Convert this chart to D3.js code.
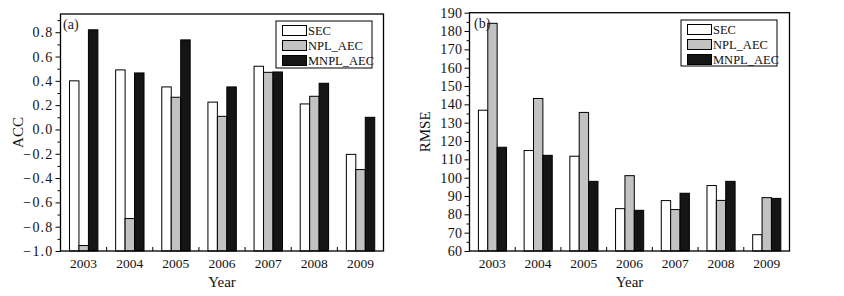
<!DOCTYPE html>
<html><head><meta charset="utf-8">
<script src="https://cdn.jsdelivr.net/npm/d3@7"></script>
<style>
html,body{margin:0;padding:0;background:#fff;}
svg{display:block;font-family:"Liberation Serif","DejaVu Serif",serif;}
</style></head>
<body>
<svg id="chart" width="844" height="296"></svg>
<script>
const years = ["2003","2004","2005","2006","2007","2008","2009"];
const seriesNames = ["SEC","NPL_AEC","MNPL_AEC"];
const seriesColors = ["#ffffff","#c2c2c2","#151515"];
const accSEC  = [0.40, 0.49, 0.35, 0.225, 0.52, 0.21, -0.205];
const accNPL  = [-0.955, -0.733, 0.265, 0.108, 0.47, 0.273, -0.33];
const accMNPL = [0.82, 0.465, 0.737, 0.35, 0.473, 0.38, 0.10];
const rmseSEC  = [136.8, 114.8, 111.7, 83.1, 87.5, 95.7, 68.9];
const rmseNPL  = [184.2, 143.2, 135.6, 101.1, 82.6, 87.6, 89.1];
const rmseMNPL = [116.6, 112.2, 98.0, 82.2, 91.5, 98.0, 88.7];
const accTicks = [-1.0,-0.8,-0.6,-0.4,-0.2,0.0,0.2,0.4,0.6,0.8];
const rmseTicks = [60,70,80,90,100,110,120,130,140,150,160,170,180,190];

const svg = d3.select("#chart");

function panel(opts){
  const {x0,x1,y0,y1,domain,ticks,minorStep,fmt,series,label,yTitle,yTitleX,legend,labelPos,ls} = opts;
  const g = svg.append("g");
  const x = d3.scaleBand().domain(years).range([x0,x1]).padding(0);
  const xs = d3.scaleBand().domain(seriesNames).range([x.bandwidth()*0.195, x.bandwidth()*0.81]).padding(0);
  const y = d3.scaleLinear().domain(domain).range([y1,y0]);

  seriesNames.forEach((s,si)=>{
    g.selectAll(null).data(years).enter().append("rect")
      .attr("x", d=>x(d)+xs(s))
      .attr("width", xs.bandwidth())
      .attr("y", (d,i)=>y(series[si][i]))
      .attr("height", (d,i)=>y(domain[0]) - y(series[si][i]))
      .attr("fill", seriesColors[si])
      .attr("stroke","#000").attr("stroke-width",1);
  });

  g.append("rect").attr("x",x0).attr("y",y0).attr("width",x1-x0).attr("height",y1-y0)
    .attr("fill","none").attr("stroke","#000").attr("stroke-width",1.3);

  const yAxis = d3.axisLeft(y).tickValues(ticks).tickFormat(fmt).tickSize(5).tickPadding(2);
  const ya = g.append("g").attr("transform",`translate(${x0},0)`).call(yAxis);
  ya.attr("font-family",null);
  ya.select(".domain").remove();
  ya.selectAll("text").attr("font-size",14).attr("letter-spacing",ls).attr("font-family","Liberation Serif, serif").attr("fill","#111");
  const minor = d3.range(domain[0], domain[1]+1e-9, minorStep).filter(v=>!ticks.some(t=>Math.abs(t-v)<1e-9));
  const ym = d3.axisLeft(y).tickValues(minor).tickFormat("").tickSize(3);
  const yma = g.append("g").attr("transform",`translate(${x0},0)`).call(ym);
  yma.select(".domain").remove();

  const xAxis = d3.axisBottom(x).tickSize(0).tickPadding(7);
  const xa = g.append("g").attr("transform",`translate(0,${y1})`).call(xAxis);
  xa.attr("font-family",null);
  xa.select(".domain").remove();
  xa.selectAll("text").attr("font-size",13.5).attr("font-family","Liberation Serif, serif").attr("fill","#111");
  const bounds = years.slice(1);
  g.selectAll(null).data(bounds).enter().append("line")
    .attr("x1",d=>x(d)).attr("x2",d=>x(d)).attr("y1",y1).attr("y2",y1-4)
    .attr("stroke","#000").attr("stroke-width",1);

  g.append("text").attr("x",(x0+x1)/2).attr("y",287).attr("text-anchor","middle")
    .attr("font-size",15).attr("fill","#111").text("Year");
  g.append("text").attr("transform",`translate(${yTitleX},${(y0+y1)/2}) rotate(-90)`)
    .attr("text-anchor","middle").attr("font-size",15).attr("fill","#111").text(yTitle);
  g.append("text").attr("x",labelPos[0]).attr("y",labelPos[1]).attr("font-size",14).attr("fill","#222").text(label);

  const [lx,ly,lw,lh] = legend;
  g.append("rect").attr("x",lx).attr("y",ly).attr("width",lw).attr("height",lh)
    .attr("fill","#fff").attr("stroke","#000").attr("stroke-width",1);
  seriesNames.forEach((s,i)=>{
    const cy = ly + 9.5 + i*15;
    g.append("rect").attr("x",lx+6.5).attr("y",cy-5).attr("width",24).attr("height",10)
      .attr("fill",seriesColors[i]).attr("stroke","#000").attr("stroke-width",1);
    g.append("text").attr("x",lx+32).attr("y",cy+4.5).attr("font-size",12.5).attr("fill","#111").text(s);
  });
}

const fmtAcc = d3.format(".1f");
panel({x0:60.5,x1:383.5,y0:14,y1:251,domain:[-1.0,0.95],ticks:accTicks,minorStep:0.1,fmt:fmtAcc,
  series:[accSEC,accNPL,accMNPL],label:"(a)",yTitle:"ACC",yTitleX:23,legend:[276,21,96,47],labelPos:[63,29],ls:1.2});
panel({x0:469.5,x1:789.5,y0:12.7,y1:251,domain:[60,190],ticks:rmseTicks,minorStep:5,fmt:d3.format("d"),
  series:[rmseSEC,rmseNPL,rmseMNPL],label:"(b)",yTitle:"RMSE",yTitleX:430,legend:[681,20,96,46],labelPos:[474,28],ls:0.4});
</script>
</body></html>
